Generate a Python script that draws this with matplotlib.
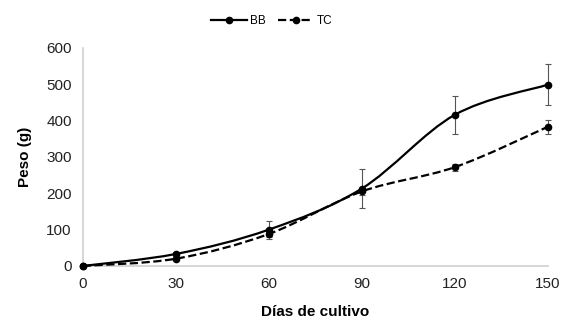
import matplotlib
matplotlib.use("Agg")
import matplotlib.pyplot as plt
import numpy as np
from matplotlib.path import Path
from matplotlib.patches import PathPatch
from matplotlib.lines import Line2D

plt.rcParams['font.family'] = ['Liberation Sans', 'DejaVu Sans']

dias = [0, 30, 60, 90, 120, 150]
bb = [0, 33, 100, 213, 416, 499]
bb_err = [3, 6, 25, 53, 53, 57]
tc = [0, 20, 88, 205, 272, 383]
tc_err = [2, 4, 8, 10, 10, 20]


def smooth_path(x, y):
    # Excel-like smoothed line: cubic bezier with catmull-rom control points
    x = np.asarray(x, float)
    y = np.asarray(y, float)
    verts = [(x[0], y[0])]
    codes = [Path.MOVETO]
    n = len(x)
    for i in range(n - 1):
        x0, y0 = (x[i - 1], y[i - 1]) if i > 0 else (x[i], y[i])
        x3, y3 = (x[i + 2], y[i + 2]) if i + 2 < n else (x[i + 1], y[i + 1])
        c1 = (x[i] + (x[i + 1] - x0) / 6, y[i] + (y[i + 1] - y0) / 6)
        c2 = (x[i + 1] - (x3 - x[i]) / 6, y[i + 1] - (y3 - y[i]) / 6)
        verts += [c1, c2, (x[i + 1], y[i + 1])]
        codes += [Path.CURVE4] * 3
    return Path(verts, codes)


fig = plt.figure(figsize=(5.63, 3.22), dpi=100)
ax = fig.add_axes([0.147, 0.174, 0.826, 0.677])

for vals, errs, ls in [(bb, bb_err, '-'), (tc, tc_err, '--')]:
    ax.add_patch(PathPatch(smooth_path(dias, vals), facecolor='none',
                           edgecolor='black', lw=1.6, linestyle=ls, zorder=3,
                           clip_on=False))
    eb = ax.errorbar(dias, vals, yerr=errs, fmt='none', ecolor='#555555',
                     elinewidth=0.8, capsize=2, capthick=0.8, zorder=2)
    for art in eb.lines[1] + eb.lines[2]:
        art.set_clip_on(False)
    ax.plot(dias, vals, 'o', color='black', ms=4.5, zorder=4, clip_on=False)

ax.set_xlim(0, 150)
ax.set_ylim(0, 600)
ax.set_xticks(dias)
ax.set_yticks(range(0, 601, 100))
ax.tick_params(length=0, labelsize=11, colors='#222222', pad=8)
for s in ['top', 'right']:
    ax.spines[s].set_visible(False)
for s in ['left', 'bottom']:
    ax.spines[s].set_color('#d0d0d0')
    ax.spines[s].set_linewidth(1.2)

ax.set_xlabel('Días de cultivo', fontsize=11, fontweight='bold', labelpad=10)
ax.set_ylabel('Peso (g)', fontsize=11, fontweight='bold', labelpad=10)

handles = [Line2D([], [], color='black', lw=1.6, ls='-', marker='o', ms=4.5),
           Line2D([], [], color='black', lw=1.6, ls='--', marker='o', ms=4.5)]
fig.legend(handles, ['BB', 'TC'], loc='center', bbox_to_anchor=(0.483, 0.935),
           ncol=2, frameon=False, fontsize=8.5, handlelength=3,
           columnspacing=1.0, handletextpad=0.3)

fig.savefig('out.png', dpi=100)
